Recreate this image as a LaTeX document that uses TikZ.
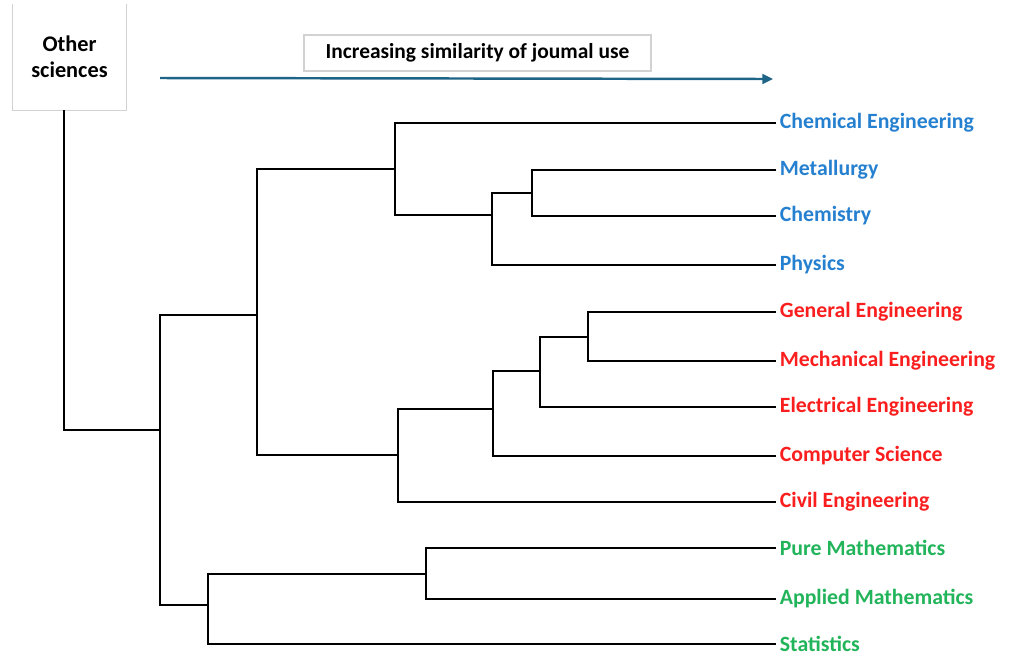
\documentclass[tikz,border=0pt]{standalone}
\usepackage{fontspec}
\setmainfont{Carlito}
\usetikzlibrary{arrows.meta,positioning}
\definecolor{fieldblue}{RGB}{38,128,208}
\definecolor{fieldred}{RGB}{250,30,30}
\definecolor{fieldgreen}{RGB}{34,180,90}
\definecolor{arrowteal}{RGB}{30,100,135}

\begin{document}
\begin{tikzpicture}[x=0.02cm, y=-0.02cm,
  branch/.style={line width=1.3pt, black},
  leaf/.style={anchor=west, inner xsep=2pt, inner ysep=0pt, font=\bfseries\fontsize{12.4}{14}\selectfont},
  frame/.style={draw=gray!35, line width=0.8pt},
  heading/.style={align=center, font=\bfseries\fontsize{12.2}{14}\selectfont}
]
\useasboundingbox (0,0) rectangle (1013,657);

\node[heading, font=\bfseries\fontsize{12.7}{14.7}\selectfont, minimum width=2.26cm, minimum height=2.12cm] (other) at (69.5,57) {Other\\sciences};
\draw[frame] (other.north west) -- (other.south west) -- (other.south east) -- (other.north east);

\node[heading, frame, minimum width=6.94cm, minimum height=0.72cm] (trend) at (477.5,53) {Increasing similarity of joumal use};
\coordinate (trend start) at (160,78);
\coordinate (trend end) at (773,79);
\draw[arrowteal, line width=1.4pt, -{Triangle[length=6pt, width=5.5pt]}] (trend start) -- (trend end);

\node[leaf, fieldblue] (cheme) at (776,123) {Chemical Engineering};
\node[leaf, fieldblue] (metall) at (776,170) {Metallurgy};
\node[leaf, fieldblue] (chem) at (776,216) {Chemistry};
\node[leaf, fieldblue] (phys) at (776,265) {Physics};
\node[leaf, fieldred] (gen) at (776,312) {General Engineering};
\node[leaf, fieldred] (mech) at (776,361) {Mechanical Engineering};
\node[leaf, fieldred] (elec) at (776,407) {Electrical Engineering};
\node[leaf, fieldred] (comp) at (776,456) {Computer Science};
\node[leaf, fieldred] (civil) at (776,502) {Civil Engineering};
\node[leaf, fieldgreen] (pure) at (776,548) {Pure Mathematics};
\node[leaf, fieldgreen] (appl) at (776,599) {Applied Mathematics};
\node[leaf, fieldgreen] (stat) at (776,644) {Statistics};

\coordinate (metchem) at (532,193);
\coordinate (mcp) at (492,215);
\coordinate (blue) at (395,169);
\coordinate (genmech) at (588,337);
\coordinate (gme) at (540,371);
\coordinate (gmec) at (493,409);
\coordinate (red) at (398,455);
\coordinate (eng) at (257,315);
\coordinate (math) at (426,574);
\coordinate (mathstat) at (208,605);
\coordinate (sci) at (160,430);
\coordinate (root) at (64,430);

\draw[branch] (metall.west) -| (metchem) |- (chem.west);
\draw[branch] (metchem) -| (mcp) |- (phys.west);
\draw[branch] (cheme.west) -| (blue) |- (mcp);
\draw[branch] (gen.west) -| (genmech) |- (mech.west);
\draw[branch] (genmech) -| (gme) |- (elec.west);
\draw[branch] (gme) -| (gmec) |- (comp.west);
\draw[branch] (gmec) -| (red) |- (civil.west);
\draw[branch] (blue) -| (eng) |- (red);
\draw[branch] (pure.west) -| (math) |- (appl.west);
\draw[branch] (math) -| (mathstat) |- (stat.west);
\draw[branch] (eng) -| (sci) |- (mathstat);
\draw[branch] (root |- other.south) -- (root) -- (sci);

\end{tikzpicture}
\end{document}
